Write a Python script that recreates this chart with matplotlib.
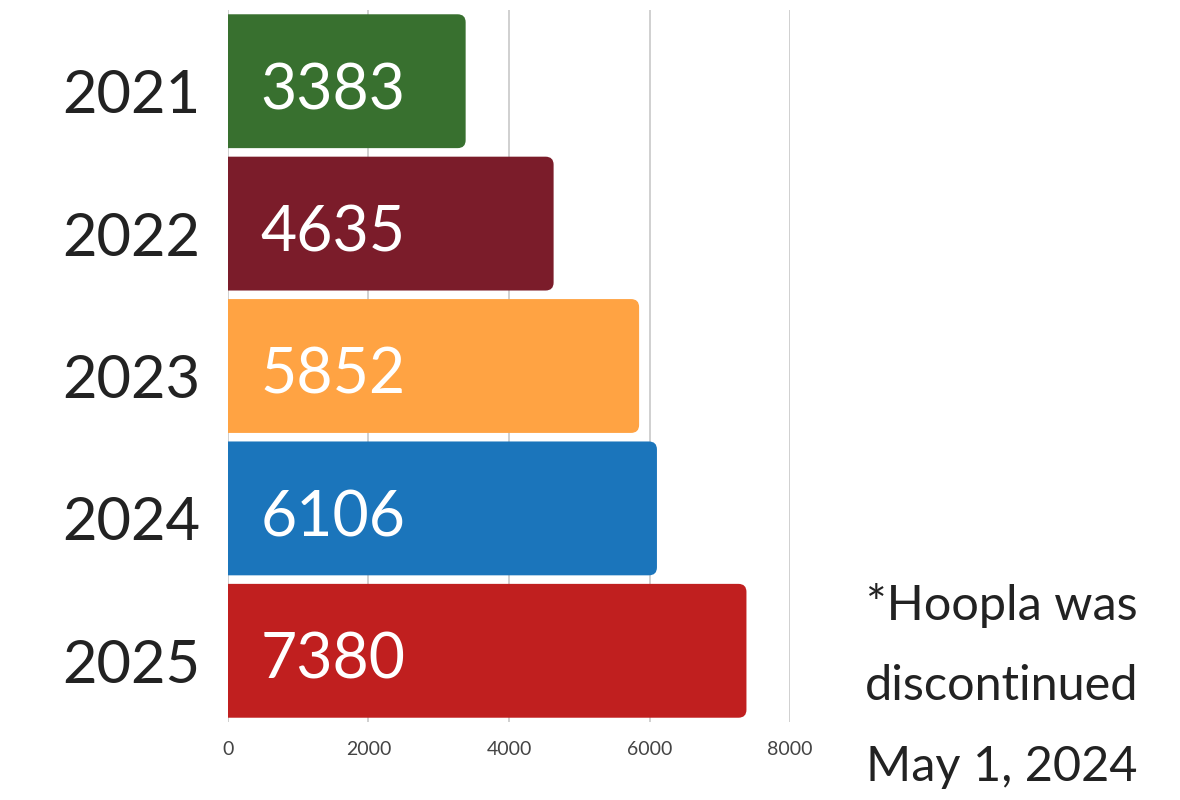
import matplotlib.pyplot as plt
import matplotlib.transforms as mtransforms
from matplotlib.patches import FancyBboxPatch

# data
years = ['2021', '2022', '2023', '2024', '2025']
checkouts = [3383, 4635, 5852, 6106, 7380]
bar_colors = ['#38702f', '#7b1c2a', '#ffa343', '#1b75bb', '#c01f1f']
x_ticks = [0, 2000, 4000, 6000, 8000]
note_lines = ['*Hoopla was', 'discontinued', 'May 1, 2024']

plt.rcParams['font.family'] = ['Lato', 'DejaVu Sans']

fig = plt.figure(figsize=(11.8, 8), dpi=100)
ax = fig.add_axes([0.1932, 0.0975, 0.4763, 0.89])

ypos = list(range(len(years)))
bars = ax.barh(ypos, checkouts, height=0.94, color='none')

# swap plain bars for boxes rounded on the right end
rx = 115
ry = 0.056
for b, c in zip(bars, bar_colors):
    x0, y0 = b.get_x(), b.get_y()
    w, h = b.get_width(), b.get_height()
    box = FancyBboxPatch((x0 - 3 * rx, y0), w + 3 * rx, h,
                         boxstyle=f'round,pad=0,rounding_size={rx}',
                         mutation_aspect=ry / rx,
                         facecolor=c, edgecolor='none', zorder=2)
    ax.add_patch(box)
    box.set_clip_path(ax.patch)
    b.set_visible(False)

# labels sit a little low, like the old-style digits of the original
shift = mtransforms.ScaledTranslation(0, -10 / 100, fig.dpi_scale_trans)

for y, v in zip(ypos, checkouts):
    ax.text(460, y, str(v), color='white', fontsize=45,
            va='center', ha='left', zorder=3,
            transform=ax.transData + shift)

ax.set_xlim(0, 8000)
ax.set_ylim(len(years) - 0.5, -0.5)
ax.set_yticks(ypos)
ax.set_yticklabels(years, fontsize=43, color='#222222')
ax.set_xticks(x_ticks)
ax.set_xticklabels([str(t) for t in x_ticks], fontsize=14, color='#444444')
ax.tick_params(axis='y', length=0, pad=20)
ax.tick_params(axis='x', length=0, pad=14)
for lab in ax.get_yticklabels():
    lab.set_transform(lab.get_transform() + shift)

ax.grid(axis='x', color='#c8c8c8', linewidth=1.2, zorder=0)
ax.set_axisbelow(True)
for s in ax.spines.values():
    s.set_visible(False)

for i, line in enumerate(note_lines):
    fig.text(1138 / 1180, 1 - (605 + 81 * i) / 800, line, fontsize=35,
             color='#222222', ha='right', va='center')

fig.savefig('out.png', dpi=100)
